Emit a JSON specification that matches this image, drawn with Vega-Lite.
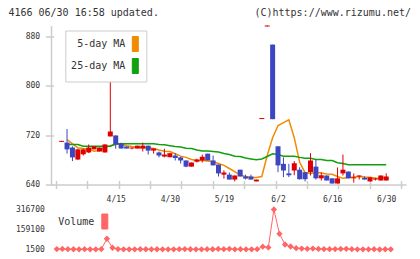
{
  "$schema": "https://vega.github.io/schema/vega-lite/v6.json",
  "background": "white",
  "padding": {"left": 8, "top": 7.5, "right": 0, "bottom": 0},
  "title": {"text": "4166 06/30 16:58 updated.", "anchor": "start", "frame": "bounds", "font": "DejaVu Sans Mono", "fontSize": 10, "fontWeight": "normal", "color": "#333333", "dx": -7, "dy": 10, "offset": 0},
  "config": {
    "view": {"stroke": null},
    "axis": {"labelFont": "DejaVu Sans Mono", "labelFontSize": 8, "labelColor": "#333333", "domainColor": "#cccccc", "tickColor": "#cccccc", "grid": false, "title": null},
    "legend": {"labelFont": "DejaVu Sans Mono", "labelFontSize": 10, "labelColor": "#333333"}
  },
  "spacing": 2,
  "resolve": {"scale": {"color": "independent"}},
  "datasets": {
    "d": [
      {"i": 0, "o": 709.2, "h": 710.8, "l": 709.2, "c": 710.8, "m5": null, "m25": null, "v": 5000},
      {"i": 1, "o": 708, "h": 730, "l": 690, "c": 697, "m5": 713, "m25": 705, "v": 6000},
      {"i": 2, "o": 700, "h": 702, "l": 678, "c": 684, "m5": 706, "m25": 705, "v": 4000},
      {"i": 3, "o": 680.5, "h": 698, "l": 680, "c": 697, "m5": 699.5, "m25": 705, "v": 3500},
      {"i": 4, "o": 689, "h": 698, "l": 687, "c": 697, "m5": 698.4, "m25": 702, "v": 3000},
      {"i": 5, "o": 692, "h": 705, "l": 691, "c": 700, "m5": 698, "m25": 702, "v": 4000},
      {"i": 6, "o": 697, "h": 702, "l": 697, "c": 702, "m5": 694, "m25": 702, "v": 2500},
      {"i": 7, "o": 693.5, "h": 700, "l": 693.5, "c": 700, "m5": 695, "m25": 702, "v": 3000},
      {"i": 8, "o": 692, "h": 705, "l": 692, "c": 705, "m5": 699.5, "m25": 702, "v": 4500},
      {"i": 9, "o": 718, "h": 807, "l": 718, "c": 726, "m5": 703, "m25": 702, "v": 86000},
      {"i": 10, "o": 719.5, "h": 720, "l": 698, "c": 705, "m5": 705, "m25": 706, "v": 15000},
      {"i": 11, "o": 706.5, "h": 708, "l": 698.4, "c": 698.4, "m5": 706, "m25": 706, "v": 5000},
      {"i": 12, "o": 701.6, "h": 701.6, "l": 698.4, "c": 698.4, "m5": 703, "m25": 706, "v": 3000},
      {"i": 13, "o": 698.4, "h": 700, "l": 697, "c": 700, "m5": 701.6, "m25": 706, "v": 2500},
      {"i": 14, "o": 698.4, "h": 703, "l": 698.4, "c": 703, "m5": 700, "m25": 706, "v": 3000},
      {"i": 15, "o": 698.4, "h": 708, "l": 693.5, "c": 703, "m5": 699.5, "m25": 706, "v": 4000},
      {"i": 16, "o": 703, "h": 703, "l": 688.6, "c": 695, "m5": 700, "m25": 706, "v": 3500},
      {"i": 17, "o": 695, "h": 698.4, "l": 690, "c": 698.4, "m5": 698.4, "m25": 706, "v": 3000},
      {"i": 18, "o": 692, "h": 693.5, "l": 684, "c": 687, "m5": 696, "m25": 704.9, "v": 3500},
      {"i": 19, "o": 685.4, "h": 698, "l": 684, "c": 688.6, "m5": 694, "m25": 704.4, "v": 3000},
      {"i": 20, "o": 684.3, "h": 691, "l": 684, "c": 690.8, "m5": 693.5, "m25": 703, "v": 2500},
      {"i": 21, "o": 687, "h": 690.8, "l": 679, "c": 683, "m5": 690, "m25": 701.6, "v": 3000},
      {"i": 22, "o": 684, "h": 685, "l": 674, "c": 679, "m5": 686, "m25": 701, "v": 4000},
      {"i": 23, "o": 679, "h": 679, "l": 668, "c": 669, "m5": 684, "m25": 699, "v": 5000},
      {"i": 24, "o": 669, "h": 675.7, "l": 669, "c": 675.7, "m5": 680.5, "m25": 698.4, "v": 3500},
      {"i": 25, "o": 677, "h": 682, "l": 675.7, "c": 680.5, "m5": 679, "m25": 696, "v": 2500},
      {"i": 26, "o": 679, "h": 688.6, "l": 675.7, "c": 685, "m5": 679, "m25": 694.3, "v": 3000},
      {"i": 27, "o": 690, "h": 690, "l": 679, "c": 679, "m5": 678, "m25": 694.3, "v": 4000},
      {"i": 28, "o": 679, "h": 687, "l": 671, "c": 671, "m5": 677, "m25": 693.5, "v": 3500},
      {"i": 29, "o": 672.4, "h": 672.4, "l": 653, "c": 658, "m5": 674, "m25": 692.7, "v": 6000},
      {"i": 30, "o": 656, "h": 663, "l": 649.5, "c": 659.5, "m5": 671, "m25": 690.3, "v": 4000},
      {"i": 31, "o": 656, "h": 659.5, "l": 648, "c": 648, "m5": 666, "m25": 688.7, "v": 7000},
      {"i": 32, "o": 648, "h": 654.6, "l": 645, "c": 654.6, "m5": 661, "m25": 686, "v": 3000},
      {"i": 33, "o": 664, "h": 664, "l": 653, "c": 653, "m5": 655.4, "m25": 685.4, "v": 4000},
      {"i": 34, "o": 653, "h": 656, "l": 648, "c": 649.7, "m5": 653, "m25": 683, "v": 2500},
      {"i": 35, "o": 653, "h": 656, "l": 648, "c": 648, "m5": 651.4, "m25": 681.4, "v": 3000},
      {"i": 36, "o": 645, "h": 648, "l": 645, "c": 648, "m5": 651.4, "m25": 680, "v": 4000},
      {"i": 37, "o": 746.2, "h": 747.8, "l": 746.2, "c": 747.8, "m5": 653, "m25": 681.4, "v": 24000},
      {"i": 38, "o": 896.4, "h": 898, "l": 896.4, "c": 898, "m5": 687, "m25": 685.4, "v": 18000},
      {"i": 39, "o": 867, "h": 867, "l": 746, "c": 746, "m5": 716, "m25": 689.8, "v": 316700},
      {"i": 40, "o": 702, "h": 702, "l": 660, "c": 671, "m5": 735.7, "m25": 688.7, "v": 125000},
      {"i": 41, "o": 673.5, "h": 684, "l": 652, "c": 662.7, "m5": 740.5, "m25": 686, "v": 41000},
      {"i": 42, "o": 658, "h": 673.5, "l": 652, "c": 655, "m5": 745, "m25": 686, "v": 25000},
      {"i": 43, "o": 662.7, "h": 678, "l": 655, "c": 674.5, "m5": 716, "m25": 686, "v": 12000},
      {"i": 44, "o": 664, "h": 668, "l": 648, "c": 648.6, "m5": 676, "m25": 684, "v": 9000},
      {"i": 45, "o": 660, "h": 660, "l": 645, "c": 648.6, "m5": 659.5, "m25": 682.6, "v": 7000},
      {"i": 46, "o": 660, "h": 690.8, "l": 654.6, "c": 679, "m5": 658, "m25": 682.6, "v": 9000},
      {"i": 47, "o": 669, "h": 680, "l": 648, "c": 650, "m5": 659.5, "m25": 680.5, "v": 6000},
      {"i": 48, "o": 650, "h": 659.5, "l": 646.5, "c": 655, "m5": 658.6, "m25": 680.5, "v": 5000},
      {"i": 49, "o": 654.6, "h": 654.6, "l": 646.5, "c": 646.5, "m5": 657, "m25": 679, "v": 4000},
      {"i": 50, "o": 650, "h": 650, "l": 641.6, "c": 641.6, "m5": 656.7, "m25": 679, "v": 5000},
      {"i": 51, "o": 641.6, "h": 667.6, "l": 641.6, "c": 650, "m5": 653, "m25": 675.2, "v": 6000},
      {"i": 52, "o": 658, "h": 688.6, "l": 654.6, "c": 664, "m5": 650, "m25": 674, "v": 7000},
      {"i": 53, "o": 661, "h": 661, "l": 650, "c": 650, "m5": 651.4, "m25": 672, "v": 4000},
      {"i": 54, "o": 650, "h": 658, "l": 643, "c": 651.6, "m5": 652, "m25": 672, "v": 3000},
      {"i": 55, "o": 653, "h": 654.6, "l": 648, "c": 654.6, "m5": 653, "m25": 672, "v": 2500},
      {"i": 56, "o": 651, "h": 653, "l": 648, "c": 648, "m5": 652, "m25": 672, "v": 3000},
      {"i": 57, "o": 645, "h": 651.6, "l": 645, "c": 651.6, "m5": 651.8, "m25": 672, "v": 4000},
      {"i": 58, "o": 648, "h": 651, "l": 646.5, "c": 649.7, "m5": 650, "m25": 672, "v": 1500},
      {"i": 59, "o": 646.5, "h": 654.6, "l": 646.5, "c": 654.6, "m5": 650.5, "m25": 672, "v": 3500},
      {"i": 60, "o": 646.5, "h": 658, "l": 646.5, "c": 653, "m5": 651.4, "m25": 672, "v": 3000}
    ]
  },
  "vconcat": [
    {
      "width": 355,
      "height": 159,
      "title": {"text": "(C)https://www.rizumu.net/", "anchor": "end", "font": "DejaVu Sans Mono", "fontSize": 10, "fontWeight": "normal", "color": "#333333", "offset": 7.5, "dx": 5},
      "data": {"name": "d"},
      "resolve": {"axis": {"x": "independent", "y": "independent"}},
      "layer": [
        {
          "mark": {"type": "line", "strokeWidth": 1.5},
          "encoding": {
            "x": {"field": "i", "type": "quantitative", "scale": {"domain": [-1.04, 62.73], "nice": false, "zero": false}, "axis": null},
            "y": {"field": "m5", "type": "quantitative", "scale": {"domain": [640, 898], "nice": false, "zero": false}, "axis": null},
            "color": {
              "datum": "5-day MA",
              "scale": {"domain": ["5-day MA", "25-day MA"], "range": ["#f08c00", "#10a010"]},
              "legend": {
                "orient": "none", "legendX": 14.3, "legendY": 5, "title": null,
                "symbolType": "M-0.4,-1H0.4V1H-0.4Z", "symbolSize": 225,
                "rowPadding": 2, "padding": 5.5, "strokeColor": "#cccccc", "fillColor": "white",
                "encode": {
                  "symbols": {"update": {"x": {"value": 64.5}, "fill": {"signal": "datum.value === '5-day MA' ? '#f08c00' : '#10a010'"}, "stroke": {"value": "#333333"}, "strokeWidth": {"value": 1}, "opacity": {"value": 1}}},
                  "labels": {"update": {"x": {"value": 54.5}, "align": {"value": "right"}}}
                }
              }
            }
          }
        },
        {
          "mark": {"type": "line", "strokeWidth": 1.5},
          "encoding": {
            "x": {"field": "i", "type": "quantitative", "axis": null},
            "y": {"field": "m25", "type": "quantitative", "axis": null},
            "color": {"datum": "25-day MA"}
          }
        },
        {
          "mark": {"type": "rule", "strokeWidth": 1},
          "encoding": {
            "x": {"field": "i", "type": "quantitative", "axis": {"orient": "bottom", "values": [-1.04, 4.757, 10.554, 16.351, 22.148, 27.945, 33.742, 39.539, 45.336, 51.133, 56.93, 62.727], "labels": false, "domain": false, "tickSize": 8, "tickWidth": 1.5, "offset": -4}},
            "y": {"field": "l", "type": "quantitative", "axis": {"orient": "left", "values": [640, 720, 800, 880], "labels": false, "domain": false, "tickSize": 8.3, "tickWidth": 1.5, "offset": -2.6}},
            "y2": {"field": "h"},
            "color": {"condition": {"test": "datum.c >= datum.o", "value": "#dd0000"}, "value": "#3c46c0"}
          }
        },
        {
          "mark": {"type": "bar", "size": 5},
          "encoding": {
            "x": {"field": "i", "type": "quantitative", "axis": {"orient": "bottom", "values": [10, 20, 30, 40, 50, 60], "labelExpr": "['4/15','4/30','5/19','6/2','6/16','6/30'][round(datum.value/10)-1]", "ticks": false, "tickSize": 0, "labelPadding": 11, "domainWidth": 1.5}},
            "y": {"field": "o", "type": "quantitative", "axis": {"orient": "left", "values": [640, 720, 800, 880], "ticks": false, "tickSize": 0, "labelPadding": 11.4, "domainWidth": 1.5}},
            "y2": {"field": "c"},
            "color": {"condition": {"test": "datum.c >= datum.o", "value": "#dd0000"}, "value": "#3c46c0"}
          }
        }
      ]
    },
    {
      "width": 355,
      "height": 40,
      "data": {"name": "d"},
      "mark": {"type": "line", "strokeWidth": 1, "point": {"filled": true, "shape": "diamond", "size": 40}},
      "encoding": {
        "x": {"field": "i", "type": "quantitative", "scale": {"domain": [-1.04, 62.73], "nice": false, "zero": false}, "axis": null},
        "y": {"field": "v", "type": "quantitative", "scale": {"domain": [1500, 316700], "nice": false, "zero": false}, "axis": {"values": [1500, 159100, 316700], "format": "d", "domain": false, "ticks": false, "tickSize": 0, "labelPadding": 6.7}},
        "color": {
          "datum": "Volume",
          "scale": {"domain": ["Volume"], "range": ["#ff6666"]},
          "legend": {
            "orient": "none", "legendX": 7.3, "legendY": 4, "title": null,
            "symbolType": "M-0.4,-1H0.4V1H-0.4Z", "symbolSize": 225, "padding": 0,
            "encode": {
              "symbols": {"update": {"x": {"value": 46.5}, "fill": {"value": "#ff6666"}, "stroke": {"value": "#333333"}, "strokeWidth": {"value": 1}, "opacity": {"value": 1}}},
              "labels": {"update": {"x": {"value": 36}, "align": {"value": "right"}}}
            }
          }
        }
      }
    }
  ]
}
